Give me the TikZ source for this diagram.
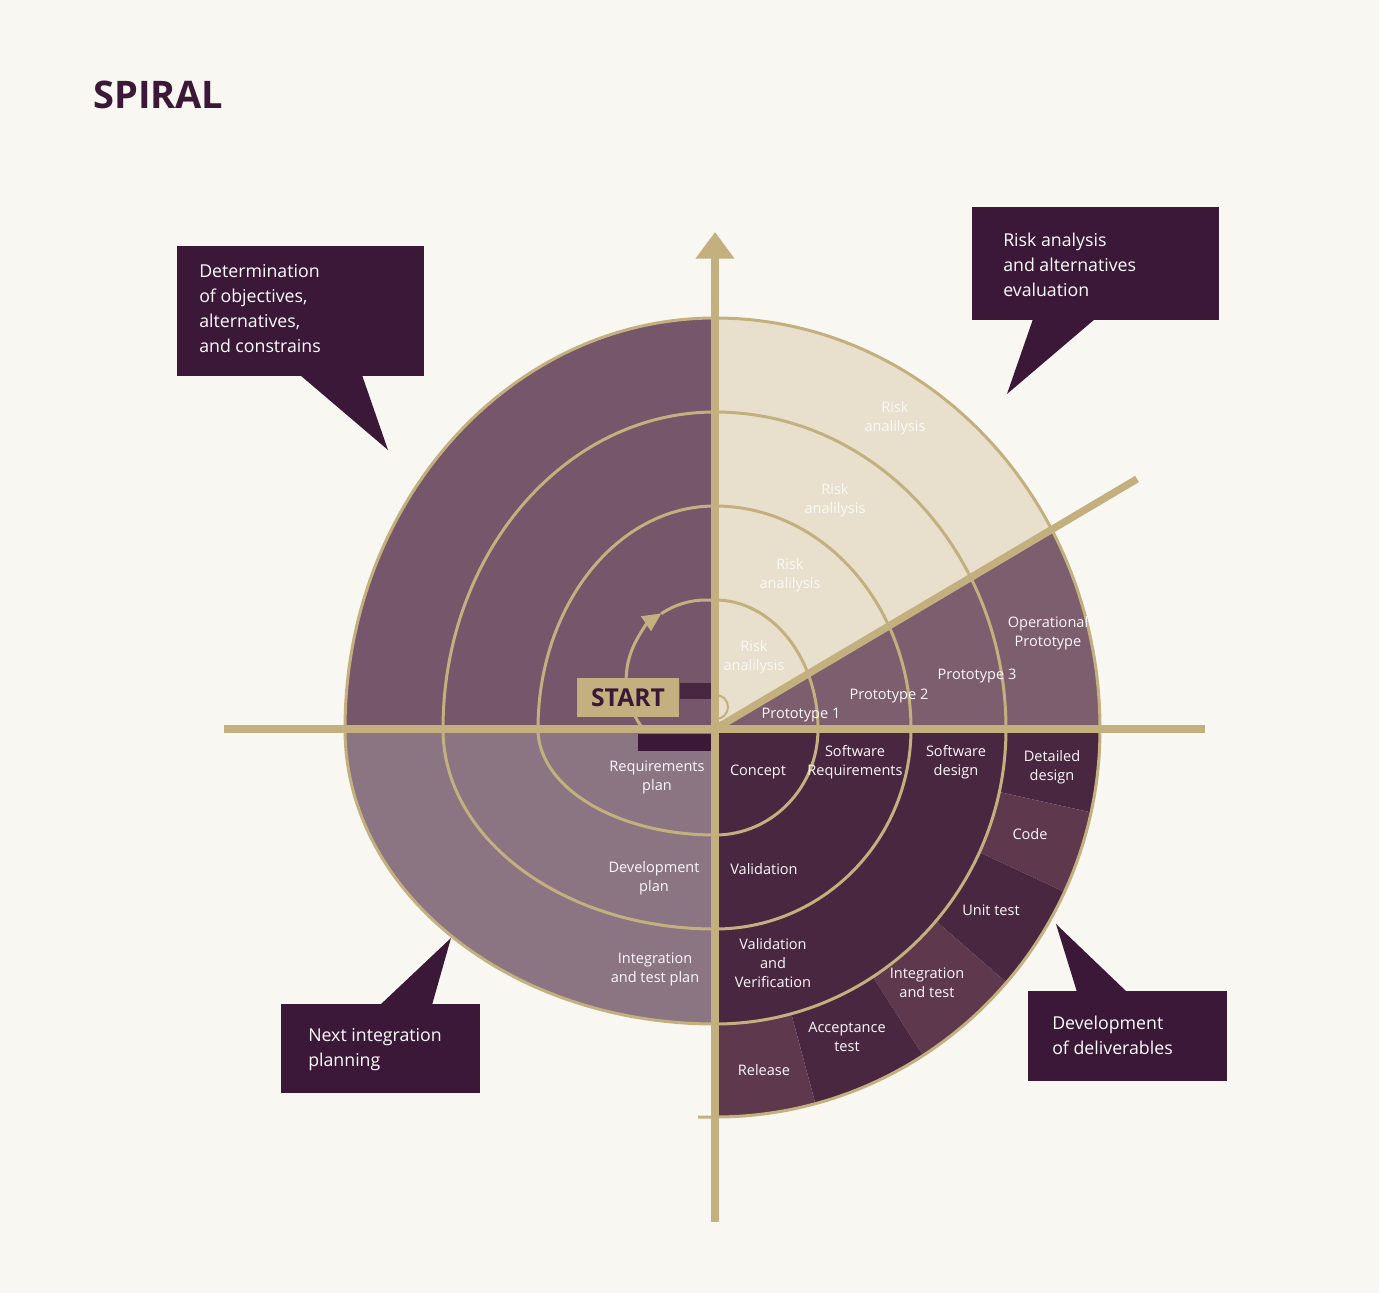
\documentclass[tikz,border=0pt]{standalone}
\usepackage{fontspec}
\setmainfont{Open Sans}
\usetikzlibrary{arrows.meta}

\definecolor{bgcol}{HTML}{F8F7F2}
\definecolor{goldcol}{HTML}{C4B07E}
\definecolor{ulcol}{HTML}{75566A}
\definecolor{llcol}{HTML}{8C7582}
\definecolor{urcol}{HTML}{7C5E6E}
\definecolor{urbeige}{HTML}{E8DFCC}
\definecolor{lrdark}{HTML}{4A2740}
\definecolor{lrlight}{HTML}{5E384D}
\definecolor{boxcol}{HTML}{3C1838}
\definecolor{txtcol}{HTML}{FBF8FA}

\begin{document}
\begin{tikzpicture}[x=0.75pt,y=0.75pt,yscale=-1,xscale=1,
  spiralline/.style={draw=goldcol, line width=2.25pt},
  axisline/.style={draw=goldcol, line width=5.5pt},
  lbl/.style={text=txtcol, font=\fontsize{10.9}{14.25}\selectfont, align=center, inner sep=0pt},
  callout/.style={fill=boxcol},
  callouttext/.style={text=white, font=\fontsize{13.3}{18.75}\selectfont, align=left, anchor=west, inner sep=0pt}]

\useasboundingbox[fill=bgcol] (0,0) rectangle (1379,1293);
\coordinate (O) at (715,729);

%Quadrant fills
\fill[ulcol] (O) -- (345,729) arc[start angle=180, end angle=270, x radius=370, y radius=411] -- cycle;
\fill[llcol] (O) -- (715,1024) arc[start angle=90, end angle=180, x radius=370, y radius=295] -- cycle;
\fill[urcol] (O) -- (715,318) arc[start angle=270, end angle=360, x radius=385, y radius=411] -- cycle;
\begin{scope}
  \clip (O) -- (715,318) arc[start angle=270, end angle=360, x radius=385, y radius=411] -- cycle;
  \fill[urbeige] (O) -- ([shift={(-30.5:700)}]O) -- (715,0) -- cycle;
\end{scope}
\begin{scope}
  \clip (O) -- (1100,729) arc[start angle=0, end angle=90, x radius=385, y radius=388] -- cycle;
  \foreach \a/\b/\c in {0/12.5/lrdark, 12.5/25/lrlight, 25/41/lrdark, 41/57.5/lrlight, 57.5/75/lrdark, 75/90/lrlight}
    \fill[\c] (O) -- ([shift={(\a:600)}]O) -- ([shift={(\b:600)}]O) -- cycle;
  \fill[lrdark] (O) -- (1006,729) arc[start angle=0, end angle=90, x radius=291, y radius=295] -- cycle;
\end{scope}

%Small bars by the start
\fill[lrdark] (680,683) rectangle (712,699);
\fill[boxcol] (638,734) rectangle (712,751);

%Spiral
\draw[spiralline] (715,600)
  arc[start angle=270, end angle=360, x radius=103, y radius=129]
  arc[start angle=0, end angle=90, x radius=103, y radius=106]
  arc[start angle=90, end angle=180, x radius=177, y radius=106]
  arc[start angle=180, end angle=270, x radius=177, y radius=223]
  arc[start angle=270, end angle=360, x radius=196, y radius=223]
  arc[start angle=0, end angle=90, x radius=196, y radius=200]
  arc[start angle=90, end angle=180, x radius=272, y radius=200]
  arc[start angle=180, end angle=270, x radius=272, y radius=317]
  arc[start angle=270, end angle=360, x radius=291, y radius=317]
  arc[start angle=0, end angle=90, x radius=291, y radius=295]
  arc[start angle=90, end angle=180, x radius=370, y radius=295]
  arc[start angle=180, end angle=270, x radius=370, y radius=411]
  arc[start angle=270, end angle=360, x radius=385, y radius=411]
  arc[start angle=0, end angle=90, x radius=385, y radius=388]
  -- ++(-17,0);
\draw[spiralline, -{Triangle[length=14pt,width=13pt]}] (644,730) arc[start angle=141, end angle=236, radius=80];
\draw[spiralline] ([shift={(236:80)}]706,680) arc[start angle=236, end angle=276, radius=80];
\draw[goldcol, line width=1.5pt] (716,695) arc[start angle=270, end angle=450, radius=12];

%Straight Lines
\coordinate (axtop) at (715,232);
\coordinate (axbot) at (715,1222);
\coordinate (axl) at (224,729);
\coordinate (axr) at (1205,729);
\coordinate (diag) at (1137,479);
\draw[axisline, -{Triangle[length=20pt,width=28pt]}] (axbot) -- (axtop);
\draw[axisline] (axl) -- (axr);
\draw[axisline] (O) -- (diag);

% Text Node
\node[lbl] (risk4) at (895,418) {Risk\\analilysis};
\node[lbl] (risk3) at (835,500) {Risk\\analilysis};
\node[lbl] (risk2) at (790,575) {Risk\\analilysis};
\node[lbl] (risk1) at (754,657) {Risk\\analilysis};
\node[lbl] (opproto) at (1048,633) {Operational\\Prototype};
\node[lbl] (proto3) at (977,676) {Prototype 3};
\node[lbl] (proto2) at (889,696) {Prototype 2};
\node[lbl] (proto1) at (801,715) {Prototype 1};
\node[lbl] (concept) at (758,772) {Concept};
\node[lbl] (swreq) at (855,762) {Software\\Requirements};
\node[lbl] (swdesign) at (956,762) {Software\\design};
\node[lbl] (detdesign) at (1052,767) {Detailed\\design};
\node[lbl] (code) at (1030,834) {Code};
\node[lbl] (unittest) at (991,910) {Unit test};
\node[lbl] (inttest) at (927,983) {Integration\\and test};
\node[lbl] (acctest) at (847,1037) {Acceptance\\test};
\node[lbl] (release) at (764,1070) {Release};
\node[lbl] (valid) at (764,869) {Validation};
\node[lbl] (validver) at (773,963) {Validation\\and\\Verification};
\node[lbl] (reqplan) at (657,777) {Requirements\\plan};
\node[lbl] (devplan) at (654,878) {Development\\plan};
\node[lbl] (intplan) at (655,969) {Integration\\and test plan};

% START
\node[fill=goldcol, text=boxcol, font=\bfseries\fontsize{18.5}{18.5}\selectfont, minimum width=76.5pt, minimum height=29.25pt, inner sep=0pt] (start) at (628,697.5) {START};

% Title
\node[anchor=west, text=boxcol, font=\bfseries\fontsize{28.5}{28.5}\selectfont, inner sep=0pt] (title) at (93,95) {SPIRAL};

% Callouts
\fill[callout] (177,246) rectangle (424,376);
\fill[callout] (300,375) -- (388,450) -- (362,375) -- cycle;
\node[callouttext] (objectives) at (199,308.5) {Determination\\of objectives,\\alternatives,\\and constrains};

\fill[callout] (972,207) rectangle (1219,320);
\fill[callout] (1033,319) -- (1007,394) -- (1095,319) -- cycle;
\node[callouttext] (riskanalysis) at (1003,265) {Risk analysis\\and alternatives\\evaluation};

\fill[callout] (281,1004) rectangle (480,1093);
\fill[callout] (380,1005) -- (451,938) -- (432,1005) -- cycle;
\node[callouttext] (nextplan) at (308,1049.5) {Next integration\\planning};

\fill[callout] (1028,991) rectangle (1227,1081);
\fill[callout] (1077,992) -- (1056,924) -- (1127,992) -- cycle;
\node[callouttext] (deliverables) at (1052,1035.5) {Development\\of deliverables};

\end{tikzpicture}
\end{document}
